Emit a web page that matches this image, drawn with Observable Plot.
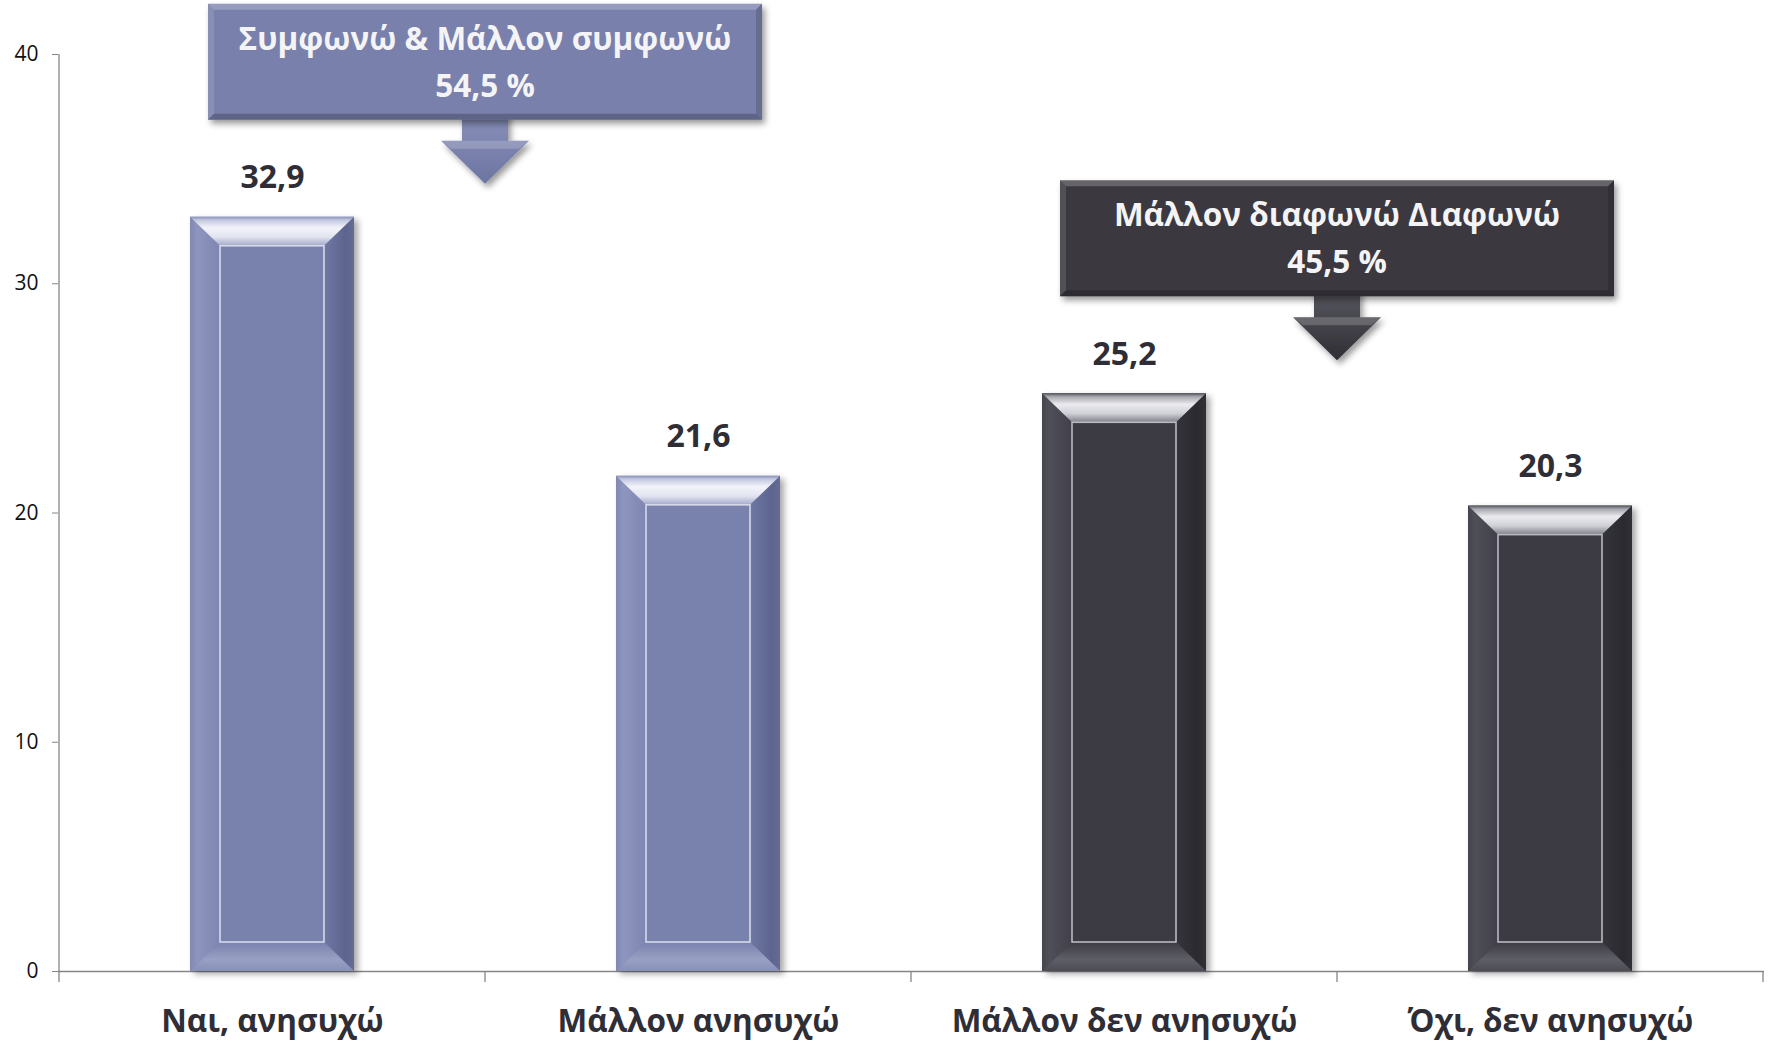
<!DOCTYPE html>
<html>
<head>
<meta charset="utf-8">
<script src="https://cdn.jsdelivr.net/npm/d3@7"></script>
<script src="https://cdn.jsdelivr.net/npm/@observablehq/plot@0.6"></script>
<style>
  html, body { margin: 0; padding: 0; background: #ffffff; }
  #chart svg { display: block; }
</style>
</head>
<body>
<div id="chart"></div>
<script>
// ---------- data ----------
const categories = ["Ναι, ανησυχώ", "Μάλλον ανησυχώ", "Μάλλον δεν ανησυχώ", "Όχι, δεν ανησυχώ"];
const values = [32.9, 21.6, 25.2, 20.3];
const valueLabels = ["32,9", "21,6", "25,2", "20,3"];
const groups = ["agree", "agree", "disagree", "disagree"];
const yTicks = [0, 10, 20, 30, 40];
const calloutGroups = ["agree", "disagree"];
const calloutTitles = ["Συμφωνώ & Μάλλον συμφωνώ", "Μάλλον διαφωνώ Διαφωνώ"];
const calloutTotals = ["54,5 %", "45,5 %"];

// ---------- styles ----------
const FONT = "'Open Sans', 'Noto Sans', sans-serif";
const palette = {
  agree: {
    face: "#7982ad", stroke: "#d7daea", box: "#7880ab",
    top: [[0, "#8a92bb"], [0.12, "#c5c9e0"], [0.38, "#f3f4fa"], [0.7, "#e1e3f0"], [1, "#a3a9ca"]],
    left: [[0, "#8189b3"], [0.25, "#8e96bf"], [1, "#7d86b0"]],
    right: [[0, "#6f78a3"], [0.7, "#5d658f"], [1, "#646c96"]],
    bottom: [[0, "#7982ad"], [0.6, "#99a0c3"], [1, "#8990b8"]],
    arrow: [[0, "#8b93bc"], [1, "#6c74a0"]]
  },
  disagree: {
    face: "#3c3b44", stroke: "#b9b9c1", box: "#3a3941",
    top: [[0, "#55555d"], [0.12, "#a8a8b0"], [0.38, "#ebebf0"], [0.7, "#cfcfd6"], [1, "#7f7f88"]],
    left: [[0, "#45454e"], [0.25, "#4f4f58"], [1, "#41404a"]],
    right: [[0, "#35343c"], [0.7, "#2a2a30"], [1, "#303036"]],
    bottom: [[0, "#3c3b44"], [0.6, "#5e5e66"], [1, "#4c4c54"]],
    arrow: [[0, "#5c5c64"], [1, "#2e2d34"]]
  }
};
const BAR_INSET = 131;     // px on each side of the band
const BEVEL_SIDE = 30;
const BEVEL_TB = 29;
const AXIS_COLOR = "#868686";

const data = categories.map((c, i) => ({category: c, value: values[i], label: valueLabels[i], group: groups[i]}));

function grad(defs, id, x2, y2, stops) {
  const lg = defs.append("linearGradient").attr("id", id)
    .attr("x1", 0).attr("y1", 0).attr("x2", x2).attr("y2", y2);
  stops.forEach(([o, c]) => lg.append("stop").attr("offset", o).attr("stop-color", c));
}

function bandStep(x) {
  return x(categories[1]) - x(categories[0]);
}

// axis lines: vertical y-axis line and category boundary ticks
function axisLines(index, scales, values, dims) {
  const x = scales.x, y = scales.y;
  const g = d3.create("svg:g");
  const step = bandStep(x);
  const y0 = y(0), yTop = y(d3.max(yTicks));
  const x0 = x(categories[0]);
  g.append("line").attr("x1", x0).attr("x2", x0).attr("y1", yTop).attr("y2", y0 + 11)
    .attr("stroke", AXIS_COLOR).attr("stroke-width", 1.3);
  categories.forEach((c, i) => {
    const bx = x(c) + step;
    g.append("line").attr("x1", bx).attr("x2", bx).attr("y1", y0).attr("y2", y0 + 11)
      .attr("stroke", AXIS_COLOR).attr("stroke-width", 1.3);
  });
  return g.node();
}

// bevel faces of each bar
function bevels(index, scales, values, dims) {
  const x = scales.x, y = scales.y;
  const g = d3.create("svg:g");
  const defs = g.append("defs");
  const f = defs.append("filter").attr("id", "barShadow")
    .attr("x", "-20%").attr("y", "-10%").attr("width", "150%").attr("height", "125%");
  f.append("feDropShadow").attr("dx", 4).attr("dy", 3).attr("stdDeviation", 3)
    .attr("flood-color", "#000").attr("flood-opacity", 0.35);
  const f2 = defs.append("filter").attr("id", "boxShadow")
    .attr("x", "-10%").attr("y", "-20%").attr("width", "125%").attr("height", "150%");
  f2.append("feDropShadow").attr("dx", 3).attr("dy", 4).attr("stdDeviation", 3)
    .attr("flood-color", "#000").attr("flood-opacity", 0.4);
  for (const key of Object.keys(palette)) {
    const p = palette[key];
    grad(defs, `top-${key}`, 0, 1, p.top);
    grad(defs, `left-${key}`, 1, 0, p.left);
    grad(defs, `right-${key}`, 1, 0, p.right);
    grad(defs, `bottom-${key}`, 0, 1, p.bottom);
    grad(defs, `arrow-${key}`, 0, 1, p.arrow);
  }
  const step = bandStep(x);
  data.forEach(d => {
    const x0 = x(d.category) + BAR_INSET, x1 = x(d.category) + step - BAR_INSET;
    const y0 = y(d.value), y1 = y(0);
    const b = BEVEL_SIDE, t = BEVEL_TB;
    const pts = a => a.map(p => p.join(",")).join(" ");
    g.append("polygon").attr("points", pts([[x0, y0], [x0 + b, y0 + t], [x0 + b, y1 - t], [x0, y1]]))
      .attr("fill", `url(#left-${d.group})`);
    g.append("polygon").attr("points", pts([[x1, y0], [x1, y1], [x1 - b, y1 - t], [x1 - b, y0 + t]]))
      .attr("fill", `url(#right-${d.group})`);
    g.append("polygon").attr("points", pts([[x0, y1], [x0 + b, y1 - t], [x1 - b, y1 - t], [x1, y1]]))
      .attr("fill", `url(#bottom-${d.group})`);
    g.append("polygon").attr("points", pts([[x0, y0], [x1, y0], [x1 - b, y0 + t], [x0 + b, y0 + t]]))
      .attr("fill", `url(#top-${d.group})`);
  });
  return g.node();
}

// callout boxes with down arrows
function callouts(index, scales, values, dims) {
  const x = scales.x, y = scales.y;
  const g = d3.create("svg:g");
  const BOX_W = 554, BOX_H = 116, GAP = 97;
  calloutGroups.forEach((grp, k) => {
    const members = data.filter(d => d.group === grp);
    const cx = x(members[members.length - 1].category); // boundary between the group's two categories
    const bottom = y(d3.max(members, d => d.value)) - GAP;
    const top = bottom - BOX_H;
    const left = cx - BOX_W / 2, right = cx + BOX_W / 2;
    const p = palette[grp];
    // arrow
    const sw = 23, hw = 44, sb = bottom + 21, tip = bottom + 64;
    g.append("path")
      .attr("d", `M${cx - sw},${bottom - 10} L${cx + sw},${bottom - 10} L${cx + sw},${sb} L${cx + hw},${sb} L${cx},${tip} L${cx - hw},${sb} L${cx - sw},${sb} Z`)
      .attr("fill", `url(#arrow-${grp})`).attr("filter", "url(#boxShadow)");
    g.append("path")
      .attr("d", `M${cx - hw},${sb} L${cx + hw},${sb} L${cx + hw - 10},${sb + 8} L${cx - hw + 10},${sb + 8} Z`)
      .attr("fill", "#ffffff").attr("fill-opacity", 0.18);
    // box
    g.append("rect").attr("x", left).attr("y", top).attr("width", BOX_W).attr("height", BOX_H)
      .attr("fill", p.box).attr("filter", "url(#boxShadow)");
    const e = 6;
    const poly = (a, fill, op) => g.append("polygon").attr("points", a.map(q => q.join(",")).join(" "))
      .attr("fill", fill).attr("fill-opacity", op);
    poly([[left, top], [right, top], [right - e, top + e], [left + e, top + e]], "#ffffff", 0.22);
    poly([[left, top], [left + e, top + e], [left + e, bottom - e], [left, bottom]], "#ffffff", 0.12);
    poly([[right, top], [right, bottom], [right - e, bottom - e], [right - e, top + e]], "#000000", 0.15);
    poly([[left, bottom], [left + e, bottom - e], [right - e, bottom - e], [right, bottom]], "#000000", 0.22);
    g.append("text").attr("x", cx).attr("y", top + 46).attr("text-anchor", "middle")
      .attr("font-family", FONT).attr("font-weight", "bold").attr("font-size", 31.5).attr("fill", "#f4f4f6")
      .text(calloutTitles[k]);
    g.append("text").attr("x", cx).attr("y", top + 93).attr("text-anchor", "middle")
      .attr("font-family", FONT).attr("font-weight", "bold").attr("font-size", 31.5).attr("fill", "#f4f4f6")
      .text(calloutTotals[k]);
  });
  return g.node();
}

const chart = Plot.plot({
  width: 1775,
  height: 1044,
  marginLeft: 58,
  marginRight: 11,
  marginTop: 54,
  marginBottom: 73,
  style: {fontFamily: FONT, background: "#ffffff", overflow: "visible"},
  x: {type: "band", domain: categories, padding: 0, label: null},
  y: {domain: [0, 40], label: null},
  marks: [
    Plot.ruleY([0], {stroke: AXIS_COLOR, strokeWidth: 1.3}),
    axisLines,
    Plot.barY(data, {
      x: "category", y: "value",
      fill: d => palette[d.group].face,
      insetLeft: BAR_INSET, insetRight: BAR_INSET,
      ariaDescription: "base-bars"
    }),
    bevels,
    Plot.barY(data, {
      x: "category", y: "value",
      fill: d => palette[d.group].face,
      stroke: d => palette[d.group].stroke, strokeWidth: 1.6,
      insetLeft: BAR_INSET + BEVEL_SIDE, insetRight: BAR_INSET + BEVEL_SIDE,
      insetTop: BEVEL_TB, insetBottom: BEVEL_TB
    }),
    Plot.text(data, {
      x: "category", y: "value", text: "label",
      lineAnchor: "bottom", dy: -29,
      fontSize: 32, fontWeight: "bold", fill: "#2f2e36"
    }),
    Plot.axisY({ticks: yTicks, tickSize: 6, tickPadding: 14, fontSize: 21, stroke: AXIS_COLOR, fill: "#111111", label: null}),
    Plot.axisX({tickSize: 0, tickPadding: 38, fontSize: 31.5, fontWeight: "bold", fill: "#2f2e36", label: null}),
    callouts
  ]
});

d3.select(chart).selectAll('g[aria-description="base-bars"] rect').attr("filter", "url(#barShadow)");
document.getElementById("chart").appendChild(chart);
</script>
</body>
</html>
